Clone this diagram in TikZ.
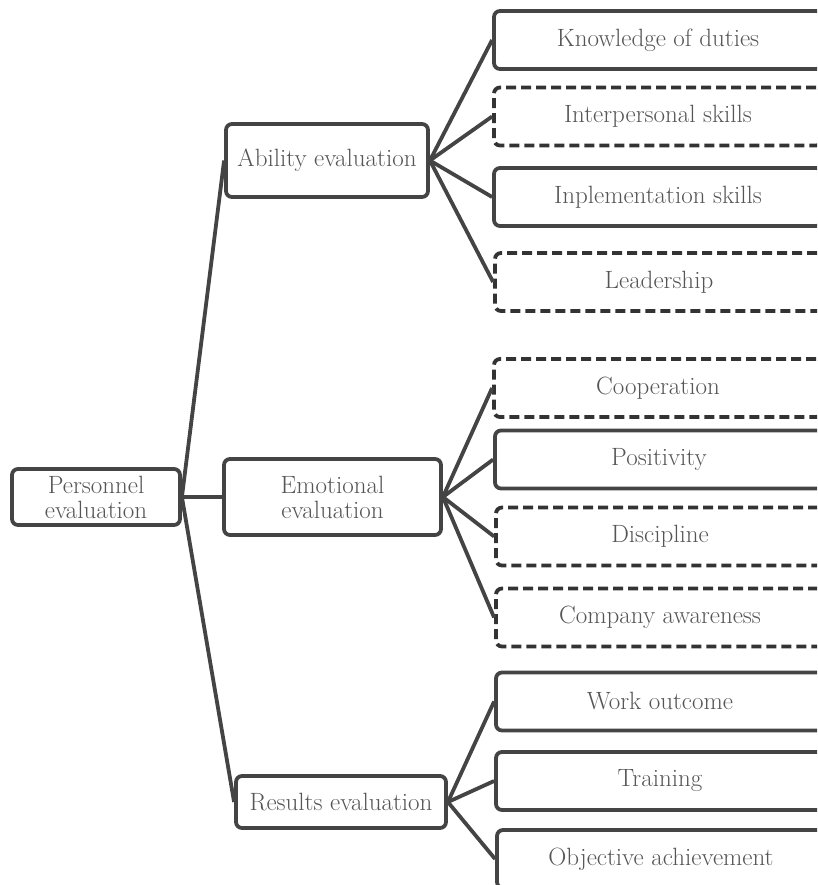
\documentclass[tikz,border=0pt]{standalone}
\definecolor{linec}{HTML}{444444}
\definecolor{dashc}{HTML}{333333}
\definecolor{textc}{HTML}{555555}
\begin{document}
\begin{tikzpicture}[x=1pt,y=-1pt,
  box/.style={draw=linec, line width=3.8pt, rounded corners=6pt, text=textc,
    font=\fontsize{25}{25}\selectfont, align=center, inner sep=0pt},
  leaf/.style={box, minimum width=328pt, minimum height=58pt},
  dleaf/.style={leaf, draw=dashc, dash pattern=on 10pt off 5pt},
  link/.style={draw=linec, line width=3.8pt}]
\useasboundingbox (0,0) rectangle (817,885);
\clip (0,0) rectangle (817,885);
% main nodes
\node[box, minimum width=168pt, minimum height=56pt] (root) at (96,497) {Personnel\\evaluation};
\node[box, minimum width=202pt, minimum height=73pt] (ab) at (327,160.5) {Ability evaluation};
\node[box, minimum width=217pt, minimum height=76pt] (em) at (332.5,497) {Emotional\\evaluation};
\node[box, minimum width=210pt, minimum height=52pt] (re) at (341,802) {Results evaluation};
% leaves
\node[leaf]  (k1) at (658,40)    {Knowledge of duties};
\node[dleaf] (k2) at (658,116.5) {Interpersonal skills};
\node[leaf]  (k3) at (658,197)   {Inplementation skills};
\node[dleaf] (k4) at (659,282)   {Leadership};
\node[dleaf] (e1) at (658,388)   {Cooperation};
\node[leaf]  (e2) at (659,459.5) {Positivity};
\node[dleaf] (e3) at (660,536.5) {Discipline};
\node[dleaf] (e4) at (660,617.5) {Company awareness};
\node[leaf]  (r1) at (660,701.5) {Work outcome};
\node[leaf]  (r2) at (660,781)   {Training};
\node[leaf]  (r3) at (661,859)   {Objective achievement};
% connectors
\draw[link] (root.east) -- (ab.west);
\draw[link] (root.east) -- (em.west);
\draw[link] (root.east) -- (re.west);
\foreach \c in {k1,k2,k3,k4} \draw[link] (ab.east) -- (\c.west);
\foreach \c in {e1,e2,e3,e4} \draw[link] (em.east) -- (\c.west);
\foreach \c in {r1,r2,r3} \draw[link] (re.east) -- (\c.west);
\end{tikzpicture}
\end{document}
